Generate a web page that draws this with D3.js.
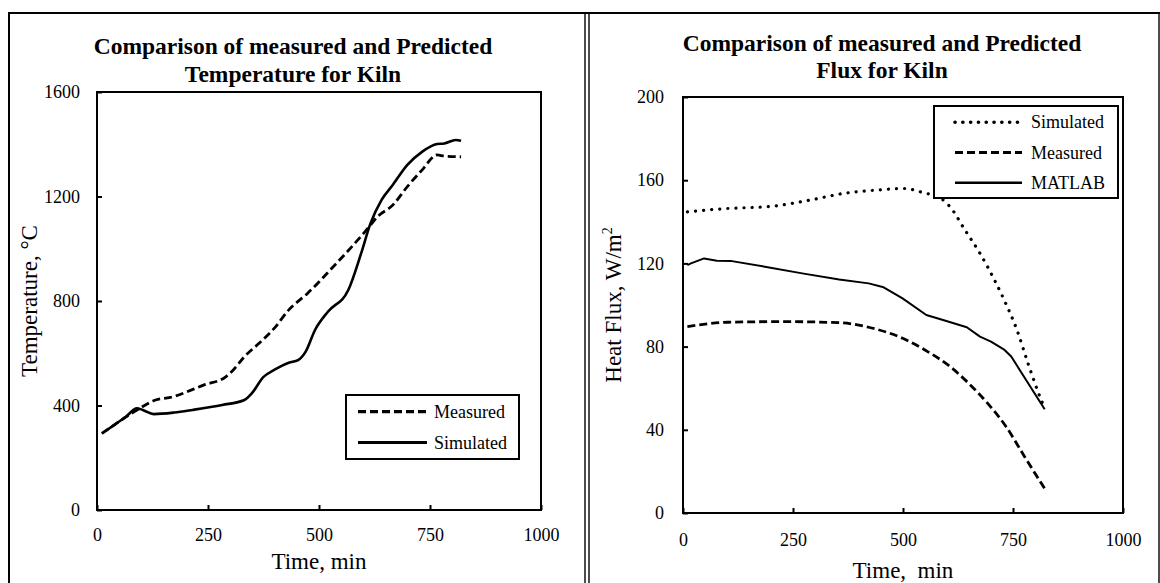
<!DOCTYPE html>
<html>
<head>
<meta charset="utf-8">
<script src="https://cdnjs.cloudflare.com/ajax/libs/d3/7.8.5/d3.min.js"></script>
<style>
    body { margin: 0; background: #fff; }
    text { font-family: "Liberation Serif", "Times New Roman", serif; fill: #000; }
</style>
</head>
<body>
<script>
// tick values
var timeTicks = [0, 250, 500, 750, 1000];
var tempTicks = [0, 400, 800, 1200, 1600];
var fluxTicks = [0, 40, 80, 120, 160, 200];

// left chart: temperature (deg C) vs time (min)
var tempMeasuredTime = [11, 40, 65, 90, 132, 165, 240, 290, 307, 332, 365, 399, 432, 474, 532, 607, 632, 666, 699, 732, 766, 782, 820];
var tempMeasured = [293, 327, 356, 383, 421, 431, 478, 510, 536, 587, 638, 695, 766, 829, 931, 1072, 1123, 1167, 1238, 1301, 1359, 1355, 1352];
var tempSimulatedTime = [11, 40, 65, 90, 103, 128, 174, 215, 282, 332, 349, 374, 399, 432, 453, 470, 491, 520, 566, 595, 616, 641, 666, 699, 732, 766, 782, 808, 820];
var tempSimulated = [293, 327, 357, 389, 383, 367, 373, 383, 402, 421, 447, 508, 536, 564, 574, 606, 689, 759, 842, 983, 1097, 1187, 1244, 1321, 1371, 1401, 1403, 1416, 1413];

// right chart: heat flux (W/m2) vs time (min)
var fluxSimulatedTime = [10, 102, 204, 287, 373, 439, 503, 548, 583, 607, 641, 675, 708, 730, 759, 784, 814, 822];
var fluxSimulated = [144.8, 146.4, 147.5, 150.4, 153.9, 155.2, 156, 153.9, 151.7, 147.2, 136, 124.8, 112, 102.4, 88, 72, 54.4, 50.4];
var fluxMeasuredTime = [10, 102, 229, 355, 422, 499, 556, 607, 649, 692, 734, 776, 822];
var fluxMeasured = [89.6, 91.7, 92, 91.5, 89.3, 84, 77.6, 70.4, 62.4, 52.8, 41.6, 27.2, 11.7];
var fluxMatlabTime = [10, 18, 48, 77, 111, 186, 271, 355, 422, 456, 499, 553, 591, 645, 675, 700, 729, 746, 822];
var fluxMatlab = [119.2, 120, 122.4, 121.3, 121.1, 118.4, 115.2, 112.3, 110.4, 108.5, 103.2, 95.2, 92.8, 89.3, 84.8, 82.4, 78.7, 75.2, 49.9];

function zip(t, v) {
    return t.map(function (d, i) { return [d, v[i]]; });
}

var styles = {
    solid: { width: 2.6, dash: null, cap: "butt" },
    thin: { width: 2, dash: null, cap: "butt" },
    dashed: { width: 2.8, dash: "8,4", cap: "butt" },
    dotted: { width: 3.2, dash: "0.1,8", cap: "round" }
};

var svg = d3.select("body").append("svg")
    .attr("width", 1160)
    .attr("height", 583);

// panel frames
svg.append("line").attr("x1", 9).attr("y1", 13).attr("x2", 9).attr("y2", 583)
    .attr("stroke", "#000").attr("stroke-width", 2);
svg.append("line").attr("x1", 8).attr("y1", 13).attr("x2", 1160).attr("y2", 13)
    .attr("stroke", "#000").attr("stroke-width", 2);
[585, 589, 1159].forEach(function (x) {
    svg.append("line").attr("x1", x).attr("y1", 13).attr("x2", x).attr("y2", 583)
        .attr("stroke", "#000").attr("stroke-width", 1.4);
});

plot({
    box: { left: 97, right: 541, top: 92, bottom: 510 },
    yDomain: [0, 1600],
    yTicks: tempTicks,
    yPad: 17,
    xPad: 18,
    title: ["Comparison of measured and Predicted", "Temperature for Kiln"],
    titleX: 293, titleY: [54, 82],
    xLabel: "Time, min", xLabelY: 569,
    yLabel: [{ text: "Temperature, \u00B0C" }], yLabelX: 37,
    series: [
        { name: "Measured", data: zip(tempMeasuredTime, tempMeasured), style: "dashed", curve: d3.curveMonotoneX },
        { name: "Simulated", data: zip(tempSimulatedTime, tempSimulated), style: "solid", curve: d3.curveMonotoneX }
    ],
    legend: { x: 346, y: 395, w: 173, h: 64, rows: [411.7, 442.5], lineX: [358, 427], textX: 434 }
});

plot({
    box: { left: 683, right: 1123, top: 97, bottom: 513 },
    yDomain: [0, 200],
    yTicks: fluxTicks,
    yPad: 19,
    xPad: 20,
    title: ["Comparison of measured and Predicted", "Flux for Kiln"],
    titleX: 882, titleY: [51, 78],
    xLabel: "Time,  min", xLabelY: 578,
    yLabel: [{ text: "Heat Flux, W/m" }, { text: "2", sup: true }], yLabelX: 621,
    series: [
        { name: "Simulated", data: zip(fluxSimulatedTime, fluxSimulated), style: "dotted", curve: d3.curveMonotoneX },
        { name: "Measured", data: zip(fluxMeasuredTime, fluxMeasured), style: "dashed", curve: d3.curveMonotoneX },
        { name: "MATLAB", data: zip(fluxMatlabTime, fluxMatlab), style: "thin", curve: d3.curveLinear }
    ],
    legend: { x: 934, y: 106, w: 184, h: 92, rows: [122.3, 152.5, 182.7], lineX: [955, 1022], textX: 1031 }
});

function plot(params) {
    var b = params.box;
    var x = d3.scaleLinear().domain([0, 1000]).range([b.left, b.right]);
    var y = d3.scaleLinear().domain(params.yDomain).range([b.bottom, b.top]);
    var g = svg.append("g");

    // title
    var title = g.append("text")
        .attr("text-anchor", "middle")
        .attr("font-size", 23.5)
        .attr("font-weight", "bold");
    params.title.forEach(function (line, i) {
        title.append("tspan").attr("x", params.titleX).attr("y", params.titleY[i]).text(line);
    });

    // axes, ticks pointing inwards
    g.append("g")
        .attr("transform", "translate(0," + b.bottom + ")")
        .call(d3.axisBottom(x).tickValues(timeTicks).tickFormat(d3.format("d"))
            .tickSizeInner(-5).tickSizeOuter(0).tickPadding(params.xPad))
        .call(styleAxis);
    g.append("g")
        .attr("transform", "translate(" + b.left + ",0)")
        .call(d3.axisLeft(y).tickValues(params.yTicks).tickFormat(d3.format("d"))
            .tickSizeInner(-5).tickSizeOuter(0).tickPadding(params.yPad))
        .call(styleAxis);

    g.append("rect")
        .attr("x", b.left).attr("y", b.top)
        .attr("width", b.right - b.left).attr("height", b.bottom - b.top)
        .attr("fill", "none").attr("stroke", "#000").attr("stroke-width", 2);

    // axis titles
    g.append("text")
        .attr("x", (b.left + b.right) / 2).attr("y", params.xLabelY)
        .attr("text-anchor", "middle").attr("font-size", 23)
        .style("white-space", "pre")
        .text(params.xLabel);
    var yl = g.append("text")
        .attr("transform", "translate(" + params.yLabelX + "," + (b.top + b.bottom) / 2 + ") rotate(-90)")
        .attr("text-anchor", "middle").attr("font-size", 23);
    params.yLabel.forEach(function (p) {
        var ts = yl.append("tspan").text(p.text);
        if (p.sup) ts.attr("font-size", 14).attr("dy", -9);
    });

    // data lines
    params.series.forEach(function (s) {
        var st = styles[s.style];
        var line = d3.line()
            .x(function (d) { return x(d[0]); })
            .y(function (d) { return y(d[1]); })
            .curve(s.curve);
        g.append("path")
            .datum(s.data)
            .attr("d", line)
            .attr("fill", "none")
            .attr("stroke", "#000")
            .attr("stroke-width", st.width)
            .attr("stroke-dasharray", st.dash)
            .attr("stroke-linecap", st.cap)
            .attr("stroke-linejoin", "round");
    });

    // legend
    var L = params.legend;
    var lg = g.append("g");
    lg.append("rect")
        .attr("x", L.x).attr("y", L.y).attr("width", L.w).attr("height", L.h)
        .attr("fill", "#fff").attr("stroke", "#000").attr("stroke-width", 2);
    params.series.forEach(function (s, i) {
        var st = styles[s.style];
        lg.append("line")
            .attr("x1", L.lineX[0]).attr("x2", L.lineX[1])
            .attr("y1", L.rows[i]).attr("y2", L.rows[i])
            .attr("stroke", "#000")
            .attr("stroke-width", st.width + 0.4)
            .attr("stroke-dasharray", s.style === "dotted" ? "0.1,7.7" : st.dash)
            .attr("stroke-linecap", st.cap);
        lg.append("text")
            .attr("x", L.textX).attr("y", L.rows[i] + 6)
            .attr("font-size", 18)
            .text(s.name);
    });
}

function styleAxis(sel) {
    sel.attr("font-family", null);
    sel.select(".domain").remove();
    sel.selectAll(".tick line").attr("stroke", "#000").attr("stroke-width", 2);
    sel.selectAll(".tick text")
        .attr("font-size", 18)
        .attr("fill", "#000");
}
</script>
</body>
</html>
